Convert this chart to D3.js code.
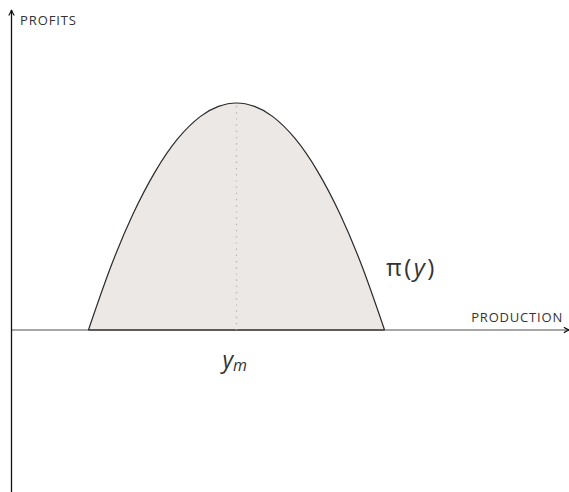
<!DOCTYPE html>
<html>
<head>
<meta charset="utf-8">
<script src="https://cdn.jsdelivr.net/npm/d3@7"></script>
<style>
  body { margin: 0; background: #fff; }
  .lbl { font-family: "Open Sans", "Lato", sans-serif; fill: #333; }
</style>
</head>
<body>
<div id="chart"></div>
<script>
// profit curve
var production = [1.71, 2.2, 2.7, 3.2, 3.7, 4.2, 4.6, 5.0, 5.4, 5.8, 6.3, 6.8, 7.3, 7.8, 8.29];
var profit     = [0, 27.5, 51.1, 70.0, 84.4, 94.1, 98.5, 100, 98.5, 94.1, 84.4, 70.0, 51.1, 27.5, 0];
var yPeak = 5.0;   // y_m
var xExtent = [0, 12.4];
var yExtent = [-71.4, 141];

var width = 569, height = 492;

var svg = d3.select("#chart").append("svg")
  .attr("width", width)
  .attr("height", height);

var x = d3.scaleLinear().domain([0, 10]).range([11.5, 461.5]);
var y = d3.scaleLinear().domain([0, 100]).range([330, 103]);

var defs = svg.append("defs");
defs.append("marker")
  .attr("id", "arr")
  .attr("viewBox", "0 0 10 10")
  .attr("refX", 9).attr("refY", 5)
  .attr("markerWidth", 7).attr("markerHeight", 7)
  .attr("markerUnits", "userSpaceOnUse")
  .attr("orient", "auto")
  .append("path")
  .attr("d", "M1,1 Q5,4 9,5 Q5,6 1,9")
  .attr("fill", "none")
  .attr("stroke", "#111")
  .attr("stroke-width", 1.6);

var pts = production.map(function(d, i) { return [d, profit[i]]; });

var area = d3.area()
  .x(function(d) { return x(d[0]); })
  .y0(y(0))
  .y1(function(d) { return y(d[1]); })
  .curve(d3.curveNatural);

var line = d3.line()
  .x(function(d) { return x(d[0]); })
  .y(function(d) { return y(d[1]); })
  .curve(d3.curveNatural);

svg.append("path")
  .datum(pts)
  .attr("d", area)
  .attr("fill", "#ece8e5");

// x axis
svg.append("line")
  .attr("x1", x(xExtent[0])).attr("x2", x(xExtent[1]))
  .attr("y1", y(0)).attr("y2", y(0))
  .attr("stroke", "#8a8a8a")
  .attr("stroke-width", 1.4)
  .attr("marker-end", "url(#arr)");

// base of the area
svg.append("line")
  .attr("x1", x(production[0])).attr("x2", x(production[production.length - 1]))
  .attr("y1", y(0)).attr("y2", y(0))
  .attr("stroke", "#444")
  .attr("stroke-width", 1.6);

// y axis
svg.append("line")
  .attr("x1", x(0)).attr("x2", x(0))
  .attr("y1", y(yExtent[0])).attr("y2", y(yExtent[1]))
  .attr("stroke", "#111")
  .attr("stroke-width", 1.3)
  .attr("marker-end", "url(#arr)");

// dotted line at the peak
svg.append("line")
  .attr("x1", x(yPeak)).attr("x2", x(yPeak))
  .attr("y1", y(100) + 3).attr("y2", y(0))
  .attr("stroke", "#b0b0b0")
  .attr("stroke-width", 1.2)
  .attr("stroke-dasharray", "1.2,5");

svg.append("path")
  .datum(pts)
  .attr("d", line)
  .attr("fill", "none")
  .attr("stroke", "#2a2a2a")
  .attr("stroke-width", 1.2);

svg.append("text").attr("class", "lbl")
  .attr("x", 20).attr("y", 25)
  .attr("font-size", 13)
  .attr("letter-spacing", 0.9)
  .text("PROFITS");

svg.append("text").attr("class", "lbl")
  .attr("x", 563).attr("y", 322)
  .attr("text-anchor", "end")
  .attr("font-size", 13)
  .attr("letter-spacing", 0.8)
  .text("PRODUCTION");

var pi = svg.append("text").attr("class", "lbl")
  .attr("x", 386).attr("y", 276)
  .attr("font-size", 24)
  .attr("letter-spacing", 2.5);
pi.append("tspan").text("π");
pi.append("tspan").text("(");
pi.append("tspan").attr("font-style", "italic").text("y");
pi.append("tspan").text(")");

var ym = svg.append("text").attr("class", "lbl")
  .attr("x", x(yPeak) - 14).attr("y", 368)
  .attr("font-size", 23);
ym.append("tspan").attr("font-style", "italic").text("y");
ym.append("tspan").attr("font-style", "italic").attr("font-size", 16).attr("dy", 3).text("m");
</script>
</body>
</html>
